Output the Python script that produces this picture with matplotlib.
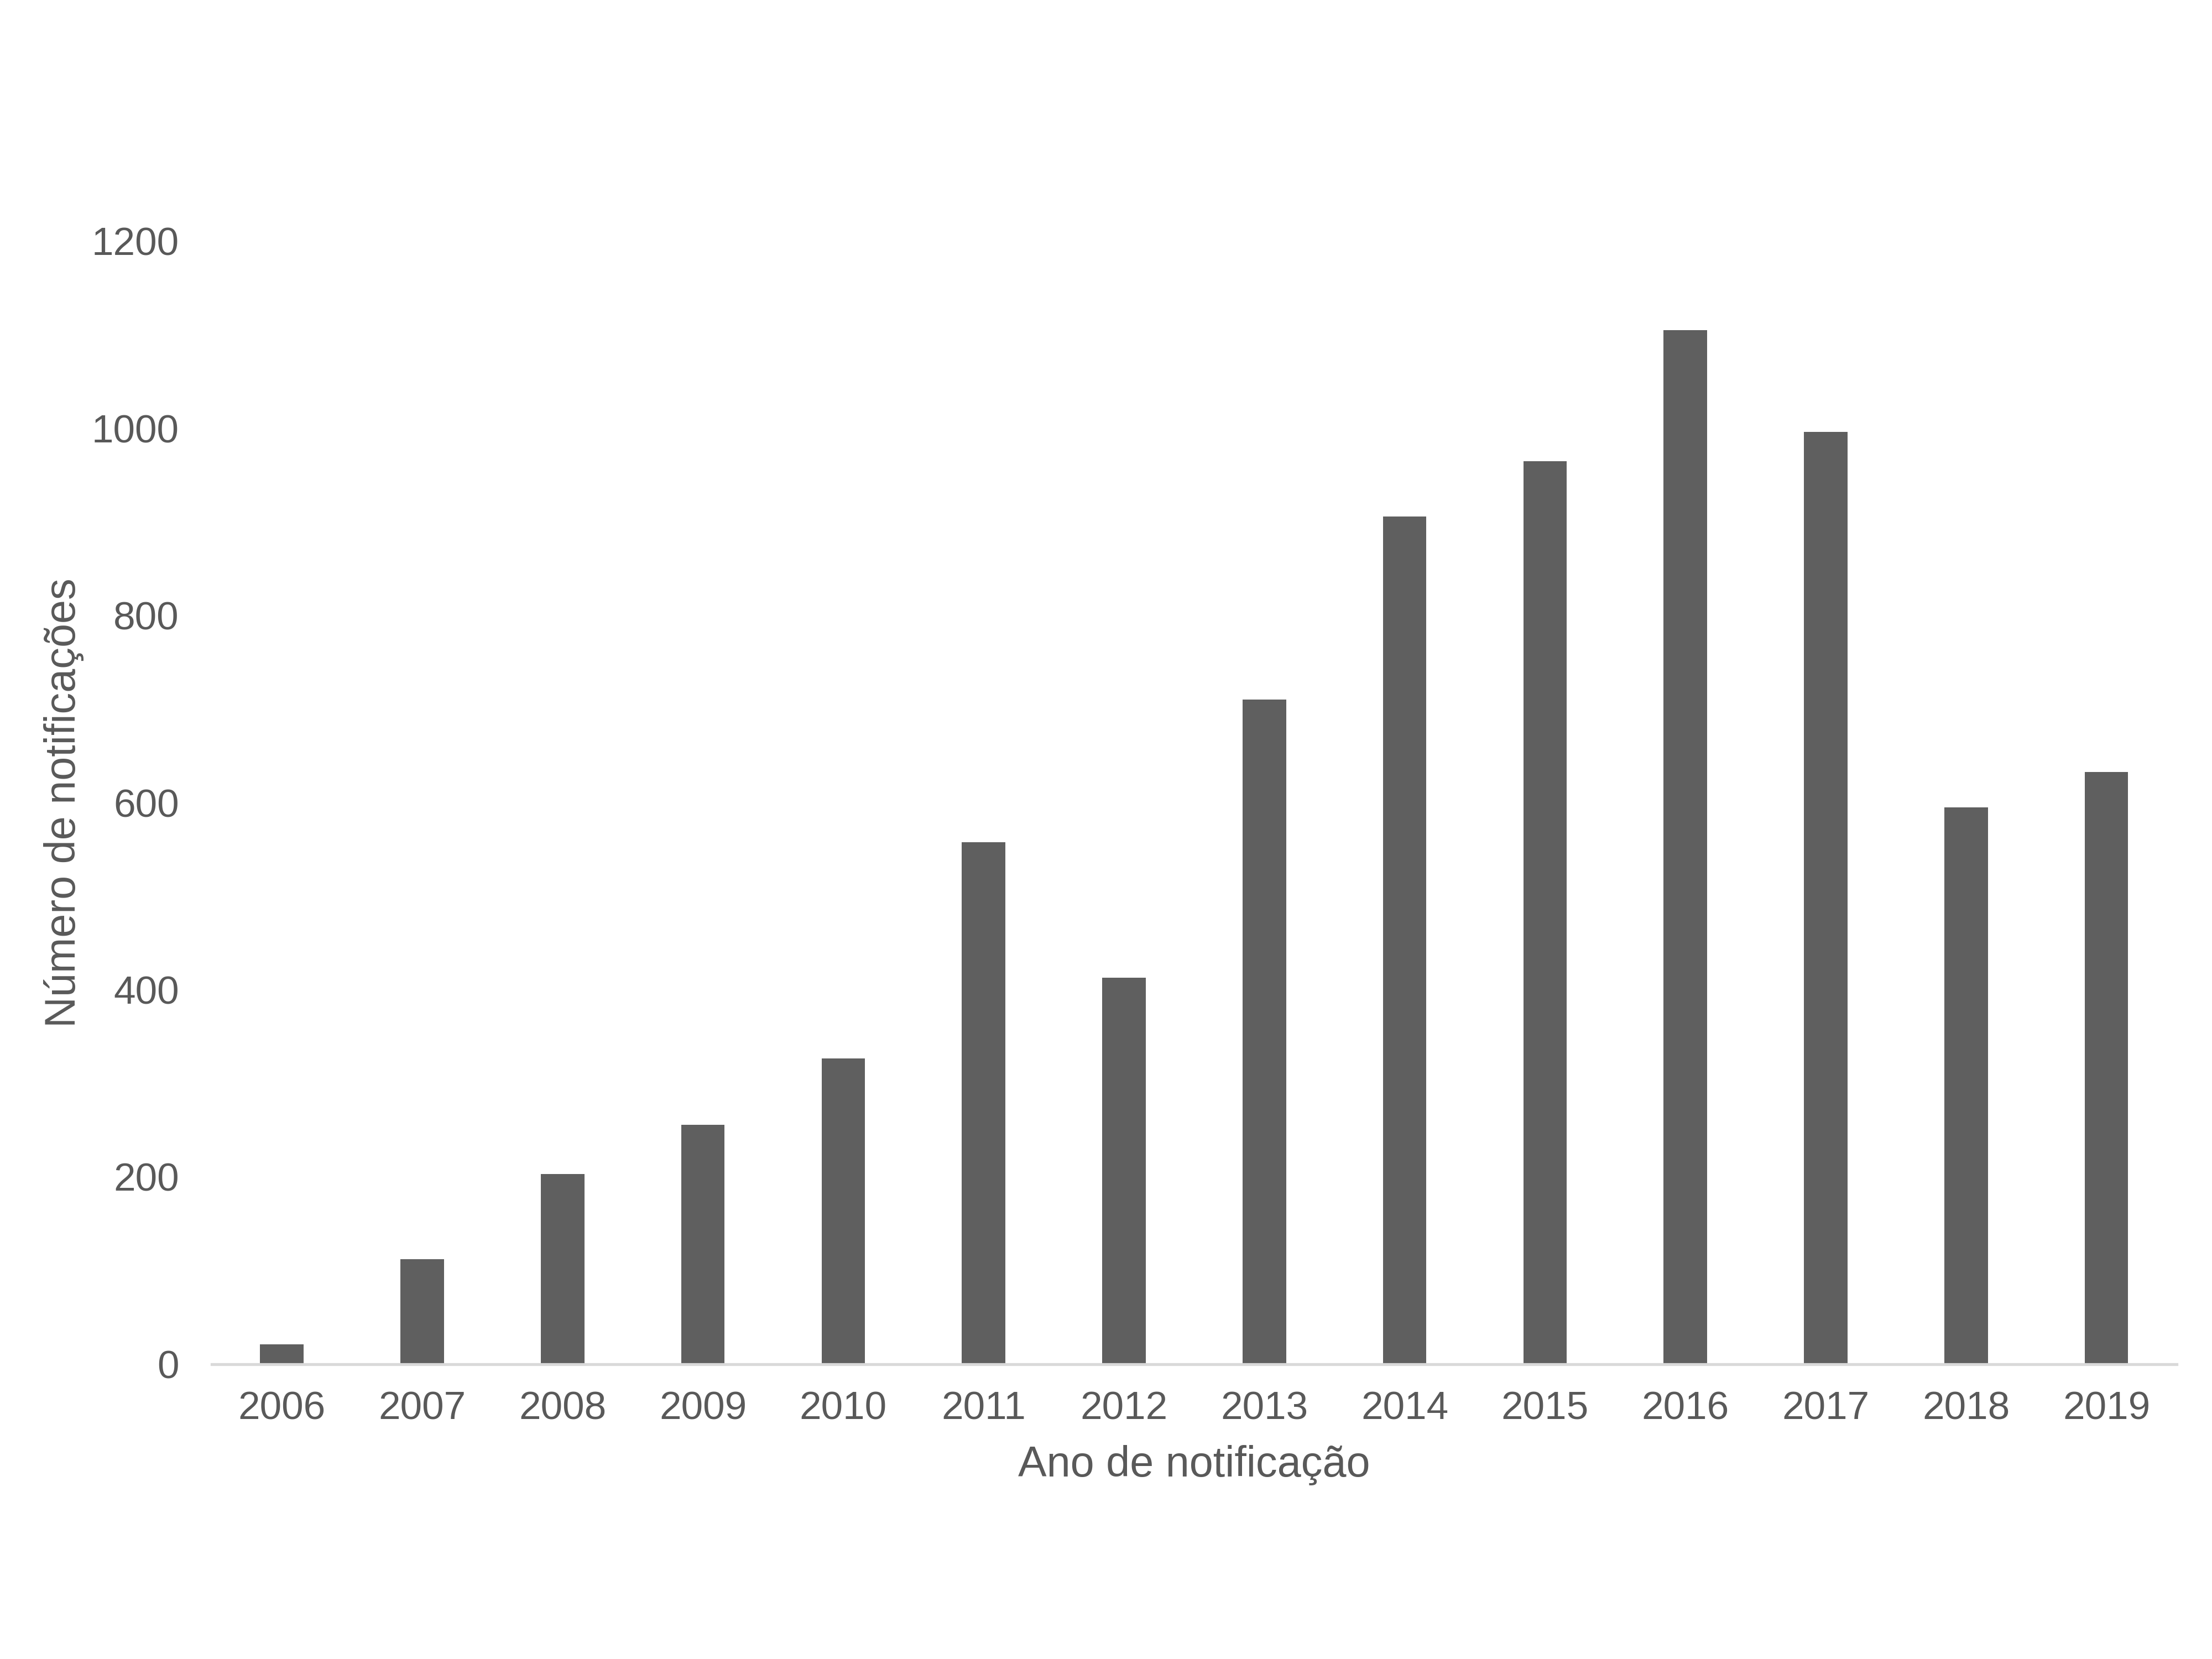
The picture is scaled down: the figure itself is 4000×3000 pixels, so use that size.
import matplotlib.pyplot as plt
import numpy as np

plt.rcParams['font.family'] = ['Liberation Sans', 'DejaVu Sans']

anos = ['2006', '2007', '2008', '2009', '2010', '2011', '2012',
        '2013', '2014', '2015', '2016', '2017', '2018', '2019']
notificacoes = [21, 112, 203, 256, 327, 558, 413, 710, 906, 965, 1105, 996, 595, 633]

cor_texto = '#595959'

fig = plt.figure(figsize=(16, 12), dpi=250)
ax = fig.add_axes([0.0957, 0.1777, 0.8883, 0.6769])

x = np.arange(len(anos))
ax.bar(x, notificacoes, width=0.31, color='#5f5f5f')

ax.set_xlim(-0.5, len(anos) - 0.5)
ax.set_ylim(0, 1200)
ax.set_yticks(np.arange(0, 1201, 200))
ax.set_xticks(x)
ax.set_xticklabels(anos)

for s in ['top', 'right', 'left']:
    ax.spines[s].set_visible(False)
ax.spines['bottom'].set_color('#d9d9d9')
ax.spines['bottom'].set_linewidth(1.5)

ax.tick_params(axis='both', length=0, labelsize=20.5, labelcolor=cor_texto)
ax.tick_params(axis='y', pad=17)
ax.tick_params(axis='x', pad=14)

ax.set_xlabel('Ano de notificação', fontsize=22.3, color=cor_texto, labelpad=9)
ax.set_ylabel('Número de notificações', fontsize=22.3, color=cor_texto, labelpad=4)

plt.savefig('out.png')
